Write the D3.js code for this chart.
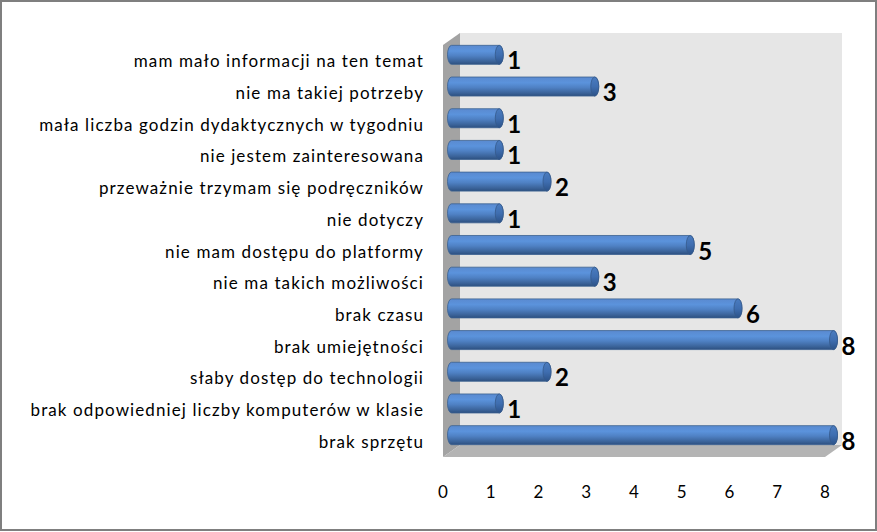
<!DOCTYPE html>
<html><head><meta charset="utf-8">
<script src="https://cdn.jsdelivr.net/npm/d3@7"></script>
<style>body{margin:0;background:#fff}svg{display:block}</style>
</head><body>
<script>
const categories = ["mam mało informacji na ten temat","nie ma takiej potrzeby","mała liczba godzin dydaktycznych w tygodniu","nie jestem zainteresowana","przeważnie trzymam się podręczników","nie dotyczy","nie mam dostępu do platformy","nie ma takich możliwości","brak czasu","brak umiejętności","słaby dostęp do technologii","brak odpowiedniej liczby komputerów w klasie","brak sprzętu"];
const values = [1,3,1,1,2,1,5,3,6,8,2,1,8];
const ticks = [0,1,2,3,4,5,6,7,8];

const W=877,H=532;
const svg=d3.select("body").append("svg").attr("width",W).attr("height",H);
const font="Lato, 'Open Sans', sans-serif";
const x=d3.scaleLinear().domain([0,8]).range([443,825]);
const y=d3.scaleBand().domain(categories).range([45,457]).paddingInner(0.4).paddingOuter(0.2);
const dx=17, dy=-12;
const plotTop=45, plotBottom=457, backTop=33;

const defs=svg.append("defs");
const g=defs.append("linearGradient").attr("id","bar").attr("x1",0).attr("y1",0).attr("x2",0).attr("y2",1);
[[0,"#5a8ad0"],[0.3,"#5b93dc"],[0.55,"#4f81c4"],[0.85,"#3a6298"],[1,"#2c4f80"]].forEach(s=>g.append("stop").attr("offset",s[0]).attr("stop-color",s[1]));
const gc=defs.append("linearGradient").attr("id","cap").attr("x1",0).attr("y1",0).attr("x2",0).attr("y2",1);
[[0,"#4a7cc0"],[0.5,"#3f6eb0"],[1,"#2c5288"]].forEach(s=>gc.append("stop").attr("offset",s[0]).attr("stop-color",s[1]));

// back wall
svg.append("rect").attr("x",x(0)+dx).attr("y",backTop).attr("width",x(8)-x(0)).attr("height",plotBottom+dy-backTop).attr("fill","#e6e6e6");
// side wall
svg.append("path").attr("d",`M${x(0)},${plotTop}L${x(0)+dx},${backTop}L${x(0)+dx},${plotBottom+dy}L${x(0)},${plotBottom}Z`).attr("fill","#a3a3a3");
// floor
svg.append("path").attr("d",`M${x(0)},${plotBottom}L${x(0)+dx},${plotBottom+dy}L${x(8)+dx},${plotBottom+dy}L${x(8)},${plotBottom}Z`).attr("fill","#b4b4b4");

// bars
const bh=y.bandwidth(), rx=4;
const bars=svg.append("g");
categories.forEach((c,i)=>{
  const yc=y(c)+bh/2+dy/2;
  const x0=x(0)+dx/2, x1=x(values[i])+dx/2;
  const t=yc-bh/2, b=yc+bh/2;
  bars.append("path")
    .attr("d",`M${x0},${t}L${x1},${t}A${rx},${bh/2} 0 0 1 ${x1},${b}L${x0},${b}A${rx},${bh/2} 0 0 1 ${x0},${t}Z`)
    .attr("fill","url(#bar)").attr("stroke","#3b6190").attr("stroke-width",0.8);
  bars.append("ellipse").attr("cx",x1).attr("cy",yc).attr("rx",rx).attr("ry",bh/2)
    .attr("fill","url(#cap)").attr("stroke","#35598a").attr("stroke-width",0.8);
  svg.append("text").attr("x",x1+rx+4).attr("y",yc+5).attr("dominant-baseline","central")
    .attr("font-family",font).attr("font-weight","bold").attr("font-size",24).attr("fill","#000").text(values[i]);
});

// category labels
svg.append("g").selectAll("text").data(categories).join("text")
  .attr("x",424).attr("y",d=>y(d)+bh/2).attr("dominant-baseline","central").attr("text-anchor","end")
  .attr("font-family",font).attr("font-size",17).attr("letter-spacing","1.1px").attr("fill","#000").text(d=>d);

// x tick labels
svg.append("g").selectAll("text").data(ticks).join("text")
  .attr("x",d=>x(d)).attr("y",491).attr("dominant-baseline","central").attr("text-anchor","middle")
  .attr("font-family",font).attr("font-size",17).attr("fill","#000").text(d=>d);

// border
svg.append("rect").attr("x",1).attr("y",1).attr("width",W-2).attr("height",H-3).attr("fill","none").attr("stroke","#7f7f7f").attr("stroke-width",2);
</script>
</body></html>
